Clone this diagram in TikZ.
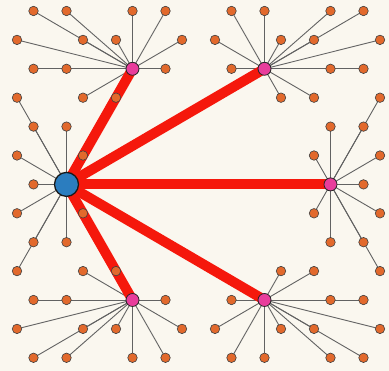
\documentclass[tikz,border=0pt]{standalone}
\pgfdeclarelayer{edges}
\pgfsetlayers{edges,main}
\definecolor{bgc}{HTML}{FAF7EF}
\definecolor{leafc}{HTML}{E2692C}
\definecolor{hubc}{HTML}{E83D9C}
\definecolor{rootc}{HTML}{2B7DBF}
\definecolor{redc}{HTML}{F5180C}
\definecolor{spokec}{HTML}{626262}
\tikzset{
  leaf/.style={circle,fill=leafc,draw=black!75,line width=0.6pt,minimum size=9.5pt,inner sep=0pt},
  hub/.style={circle,fill=hubc,draw=black!85,line width=0.8pt,minimum size=13pt,inner sep=0pt},
  root/.style={circle,fill=rootc,draw=black!90,line width=1.3pt,minimum size=24pt,inner sep=0pt},
  spoke/.style={draw=spokec,line width=0.9pt},
  heavy/.style={draw=redc,line width=10pt}
}
\newcommand\hubleaves[2]{%
  \foreach \k/\j in {#2}{%
    \node[leaf] (L-\k-\j) at ({17+16.5*\k},{360-28.9*\j}) {};
    \begin{pgfonlayer}{edges}\draw[spoke] (#1.center) -- (L-\k-\j.center);\end{pgfonlayer}
  }}
\begin{document}
\begin{tikzpicture}[x=1pt,y=1pt]
\begin{pgfonlayer}{edges}
\fill[bgc] (0,0) rectangle (389,371);
\end{pgfonlayer}
\useasboundingbox (0,0) rectangle (389,371);
% hubs
\node[hub] (A) at ({17+16.5*7},{360-28.9*2}) {};
\node[hub] (B) at ({17+16.5*15},{360-28.9*2}) {};
\node[hub] (C) at ({17+16.5*19},{360-28.9*6}) {};
\node[hub] (D) at ({17+16.5*7},{360-28.9*10}) {};
\node[hub] (E) at ({17+16.5*15},{360-28.9*10}) {};
\node[root] (O) at ({17+16.5*3},{360-28.9*6}) {};
% leaves and spokes
\hubleaves{A}{1/0,3/0,7/0,9/0,0/1,4/1,6/1,10/1,1/2,3/2,9/2,4/3,6/3}
\hubleaves{B}{13/0,15/0,19/0,21/0,12/1,16/1,18/1,22/1,13/2,19/2,21/2,16/3,18/3}
\hubleaves{C}{22/3,19/4,21/4,18/5,22/5,21/6,18/7,22/7,19/8,21/8,22/9}
\hubleaves{D}{4/9,6/9,1/10,3/10,9/10,0/11,4/11,6/11,10/11,1/12,3/12,7/12,9/12}
\hubleaves{E}{16/9,18/9,13/10,19/10,21/10,12/11,16/11,18/11,22/11,13/12,15/12,19/12,21/12}
\hubleaves{O}{0/3,1/4,3/4,0/5,4/5,1/6,0/7,4/7,1/8,3/8,0/9}
% heavy edges
\begin{pgfonlayer}{edges}
\foreach \t in {A,B,C,D,E}{\draw[heavy] (O.center) -- (\t.center);}
\end{pgfonlayer}
\end{tikzpicture}
\end{document}
